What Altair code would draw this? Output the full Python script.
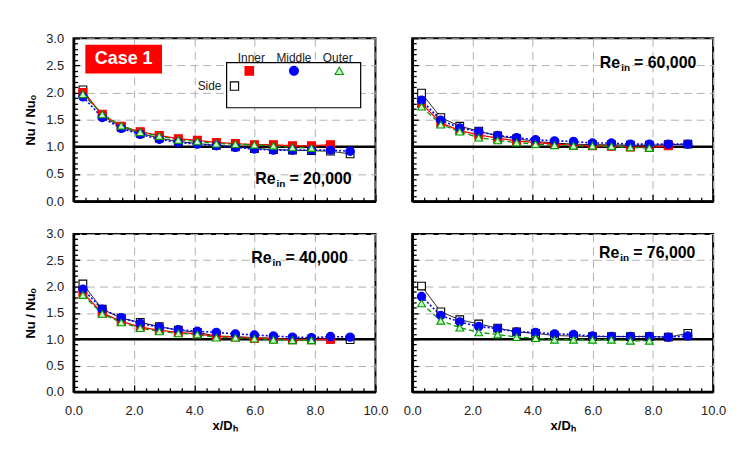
import altair as alt
import pandas as pd

FONT = "Liberation Sans"

# ---------------- data ----------------
x_pos = [0.31, 0.95, 1.58, 2.21, 2.84, 3.47, 4.10, 4.73, 5.36, 5.99, 6.62, 7.25, 7.88, 8.51, 9.16]

# Re = 20,000
side_20 = [2.05, 1.57, 1.36, 1.25, 1.16, 1.10, 1.06, 1.03, 1.00, 0.97, 0.95, 0.94, 0.93, 0.92, 0.87]
inner_20 = [2.00, 1.60, 1.38, 1.28, 1.21, 1.15, 1.12, 1.08, 1.06, 1.04, 1.04, 1.02, 1.02, 1.04]
middle_20 = [1.92, 1.54, 1.34, 1.23, 1.14, 1.08, 1.05, 1.02, 0.99, 0.96, 0.94, 0.94, 0.94, 0.94, 0.92]
outer_20 = [1.97, 1.60, 1.39, 1.27, 1.20, 1.13, 1.10, 1.06, 1.05, 1.04, 1.02, 0.99, 0.98]

# Re = 60,000
side_60 = [1.99, 1.54, 1.38, 1.29, 1.20, 1.15, 1.10, 1.07, 1.05, 1.04, 1.04, 1.03, 1.03, 1.04, 1.05]
inner_60 = [1.80, 1.44, 1.30, 1.22, 1.16, 1.11, 1.08, 1.05, 1.03, 1.02, 1.01, 1.00, 0.99, 1.02]
middle_60 = [1.86, 1.49, 1.35, 1.28, 1.21, 1.17, 1.13, 1.11, 1.10, 1.07, 1.07, 1.05, 1.05, 1.05, 1.05]
outer_60 = [1.74, 1.41, 1.28, 1.17, 1.12, 1.08, 1.05, 1.03, 1.02, 1.02, 1.01, 0.99, 0.98]

# Re = 40,000
side_40 = [2.05, 1.57, 1.40, 1.32, 1.24, 1.17, 1.13, 1.06, 1.05, 1.03, 1.02, 1.00, 1.00, 1.00, 0.99]
inner_40 = [1.88, 1.50, 1.34, 1.23, 1.17, 1.13, 1.10, 1.05, 1.04, 1.02, 1.01, 0.99, 0.99, 1.00]
middle_40 = [1.95, 1.57, 1.41, 1.30, 1.23, 1.18, 1.15, 1.13, 1.10, 1.08, 1.06, 1.04, 1.03, 1.05, 1.04]
outer_40 = [1.84, 1.48, 1.32, 1.21, 1.15, 1.11, 1.09, 1.03, 1.03, 1.01, 0.99, 0.98, 0.98]

# Re = 76,000
side_76 = [2.01, 1.52, 1.37, 1.29, 1.21, 1.14, 1.11, 1.07, 1.06, 1.05, 1.05, 1.05, 1.05, 1.04, 1.11]
middle_76 = [1.81, 1.45, 1.33, 1.24, 1.20, 1.14, 1.13, 1.10, 1.09, 1.06, 1.05, 1.05, 1.05, 1.04, 1.06]
outer_76 = [1.68, 1.35, 1.22, 1.13, 1.09, 1.04, 1.02, 0.99, 0.99, 0.99, 0.99, 0.97, 0.97]

re_labels = ["20,000", "60,000", "40,000", "76,000"]
series_names = ["Side", "Inner", "Middle", "Outer"]
legend_top = ["Inner", "Middle", "Outer"]

y_major = [0.0, 0.5, 1.0, 1.5, 2.0, 2.5, 3.0]
x_major = [0.0, 2.0, 4.0, 6.0, 8.0, 10.0]
y_minor = [i / 10 for i in range(31)]
x_minor = [round(i * 0.4, 1) for i in range(26)]

STYLE = {
    "Side": dict(color="black", dash=[1, 0], lw=1.0, shape="square", fill="white", size=60),
    "Inner": dict(color="#ff0000", dash=[1, 0], lw=1.3, shape="square", fill="#ff0000", size=64),
    "Middle": dict(color="#0000ff", dash=[2, 2], lw=1.6, shape="circle", fill="#0000ff", size=70),
    "Outer": dict(color="#009900", dash=[5, 3], lw=1.3, shape="triangle-up", fill="#ccffcc", size=62),
}

GRID = dict(grid=True, gridDash=[8, 5], gridColor="#b0b0b0", gridWidth=1)
one = pd.DataFrame({"a": [0.0]})


def x_main_axis(show):
    kw = dict(orient="bottom", values=x_major, ticks=False, tickSize=0, domain=True,
              domainColor="black", domainWidth=2.5, labels=show, labelFlush=False, format=".1f",
              labelFont=FONT, labelFontSize=13, labelColor="#222", labelPadding=13, titleFont=FONT,
              titleFontSize=13, titleFontWeight="bold", titleColor="black", titlePadding=2, **GRID)
    kw["title"] = "x/Dₕ" if show else None
    return alt.Axis(**kw)


def y_main_axis(show):
    kw = dict(orient="left", values=y_major, ticks=False, tickSize=0, domain=True,
              domainColor="black", domainWidth=2.5, labels=show, labelFlush=False, format=".1f",
              labelFont=FONT, labelFontSize=13, labelColor="#222", labelPadding=10, titleFont=FONT,
              titleFontSize=13, titleFontWeight="bold", titleColor="black", titlePadding=8, **GRID)
    kw["title"] = "Nu / Nuₒ" if show else None
    return alt.Axis(**kw)


def x_tick_axis(H):
    return alt.Axis(orient="top", offset=-H, values=x_minor, labels=False, domain=False,
                    grid=False, ticks=True, tickColor="black", tickWidth=1.3,
                    tickSize={"condition": {"test": "abs(datum.value/2 - round(datum.value/2)) < 0.001",
                                            "value": 7}, "value": 4},
                    title=None)


def y_tick_axis(W):
    return alt.Axis(orient="right", offset=-W, values=y_minor, labels=False, domain=False,
                    grid=False, ticks=True, tickColor="black", tickWidth=1.3,
                    tickSize={"condition": {"test": "abs(datum.value*2 - round(datum.value*2)) < 0.001",
                                            "value": 6}, "value": 4},
                    title=None)


def txt(text, x, y, **kw):
    return alt.Chart(one).mark_text(text=text, font=FONT, **kw).encode(
        x=alt.XDatum(x, axis=None), y=alt.YDatum(y, axis=None))


def panel(data, re_text, re_x, re_y, W, H, show_x, show_y, legend):
    xs = alt.Scale(domain=[0, 10], nice=False, zero=False, padding=0)
    ys = alt.Scale(domain=[0, 3], nice=False, zero=False, padding=0)
    frame = alt.Chart(one).mark_point(opacity=0).encode(
        x=alt.X("a:Q", scale=xs, axis=x_main_axis(show_x)),
        y=alt.Y("a:Q", scale=ys, axis=y_main_axis(show_y)))
    ticks = alt.Chart(one).mark_point(opacity=0).encode(
        x=alt.X("a:Q", scale=xs, axis=x_tick_axis(H)),
        y=alt.Y("a:Q", scale=ys, axis=y_tick_axis(W)))
    rule = alt.Chart(one).mark_rule(color="black", strokeWidth=2.5).encode(
        y=alt.YDatum(1, type="quantitative", axis=None))
    layers = [frame, ticks]
    lines, pts = [], []
    for name in series_names:
        if name not in data:
            continue
        vals = data[name]
        df = pd.DataFrame({"x": x_pos[:len(vals)], "y": vals, "series": name})
        st = STYLE[name]
        base = alt.Chart(df).encode(x=alt.X("x:Q", axis=None), y=alt.Y("y:Q", axis=None))
        lines.append(base.mark_line(color=st["color"], strokeDash=st["dash"], strokeWidth=st["lw"]))
        pts.append(base.mark_point(shape=st["shape"], filled=True, fill=st["fill"], stroke=st["color"],
                                   strokeWidth=1.1, size=st["size"], opacity=1))
    layers.append(rule)
    layers += lines + pts
    # Re label
    layers.append(txt("Re", re_x, re_y, fontSize=16, fontWeight="bold", align="right",
                      baseline="middle", color="black"))
    layers.append(txt("in", re_x, re_y, fontSize=10, fontWeight="bold", align="left",
                      baseline="middle", dx=1, dy=5, color="black"))
    layers.append(txt("= " + re_text, re_x, re_y, fontSize=16, fontWeight="bold", align="left",
                      baseline="middle", dx=14, color="black"))
    if legend:
        layers.append(alt.Chart(one).mark_rect(color="#ff0000").encode(
            x=alt.XDatum(0.39, axis=None), x2=alt.X2Datum(2.93),
            y=alt.YDatum(2.35, axis=None), y2=alt.Y2Datum(2.88)))
        layers.append(txt("Case 1", 1.66, 2.615, fontSize=18, fontWeight="bold", color="white",
                          align="center", baseline="middle"))
        layers.append(alt.Chart(one).mark_rect(fill="white", stroke="black", strokeWidth=1.2).encode(
            x=alt.XDatum(5.07, axis=None), x2=alt.X2Datum(9.51),
            y=alt.YDatum(1.72, axis=None), y2=alt.Y2Datum(2.55)))
        lab_x = [5.89, 7.30, 8.75]
        mk_x = [5.82, 7.30, 8.80]
        for name, lx, mx in zip(legend_top, lab_x, mk_x):
            layers.append(txt(name, lx, 2.64, fontSize=12, color="#222", align="center",
                              baseline="middle"))
            st = STYLE[name]
            layers.append(alt.Chart(one).mark_point(shape=st["shape"], filled=True, fill=st["fill"],
                                                    stroke=st["color"], strokeWidth=1.1,
                                                    size=st["size"] + 10, opacity=1).encode(
                x=alt.XDatum(mx, axis=None), y=alt.YDatum(2.40, axis=None)))
        layers.append(txt("Side", 4.90, 2.12, fontSize=12, color="#222", align="right",
                          baseline="middle"))
        st = STYLE["Side"]
        layers.append(alt.Chart(one).mark_point(shape=st["shape"], filled=True, fill=st["fill"],
                                                stroke=st["color"], strokeWidth=1.1,
                                                size=st["size"] + 10, opacity=1).encode(
            x=alt.XDatum(5.33, axis=None), y=alt.YDatum(2.12, axis=None)))
    return alt.layer(*layers).properties(width=W, height=H)


tl = panel({"Side": side_20, "Inner": inner_20, "Middle": middle_20, "Outer": outer_20},
           re_labels[0], 6.69, 0.41, 304, 164, False, True, True)
tr = panel({"Side": side_60, "Inner": inner_60, "Middle": middle_60, "Outer": outer_60},
           re_labels[1], 6.91, 2.55, 303, 164, False, False, False)
bl = panel({"Side": side_40, "Inner": inner_40, "Middle": middle_40, "Outer": outer_40},
           re_labels[2], 6.56, 2.55, 304, 159, True, True, False)
br = panel({"Side": side_76, "Middle": middle_76, "Outer": outer_76},
           re_labels[3], 6.88, 2.64, 303, 159, True, False, False)

chart = alt.concat(tl, tr, bl, br, columns=2, spacing={"row": 33, "column": 37},
                   bounds="flush").properties(
    padding={"left": 15, "top": 22, "right": 5, "bottom": 5}
).configure_view(stroke="black", strokeWidth=2).configure_text(font=FONT)

chart.save("out.html", embed_options={"renderer": "svg", "actions": False})
